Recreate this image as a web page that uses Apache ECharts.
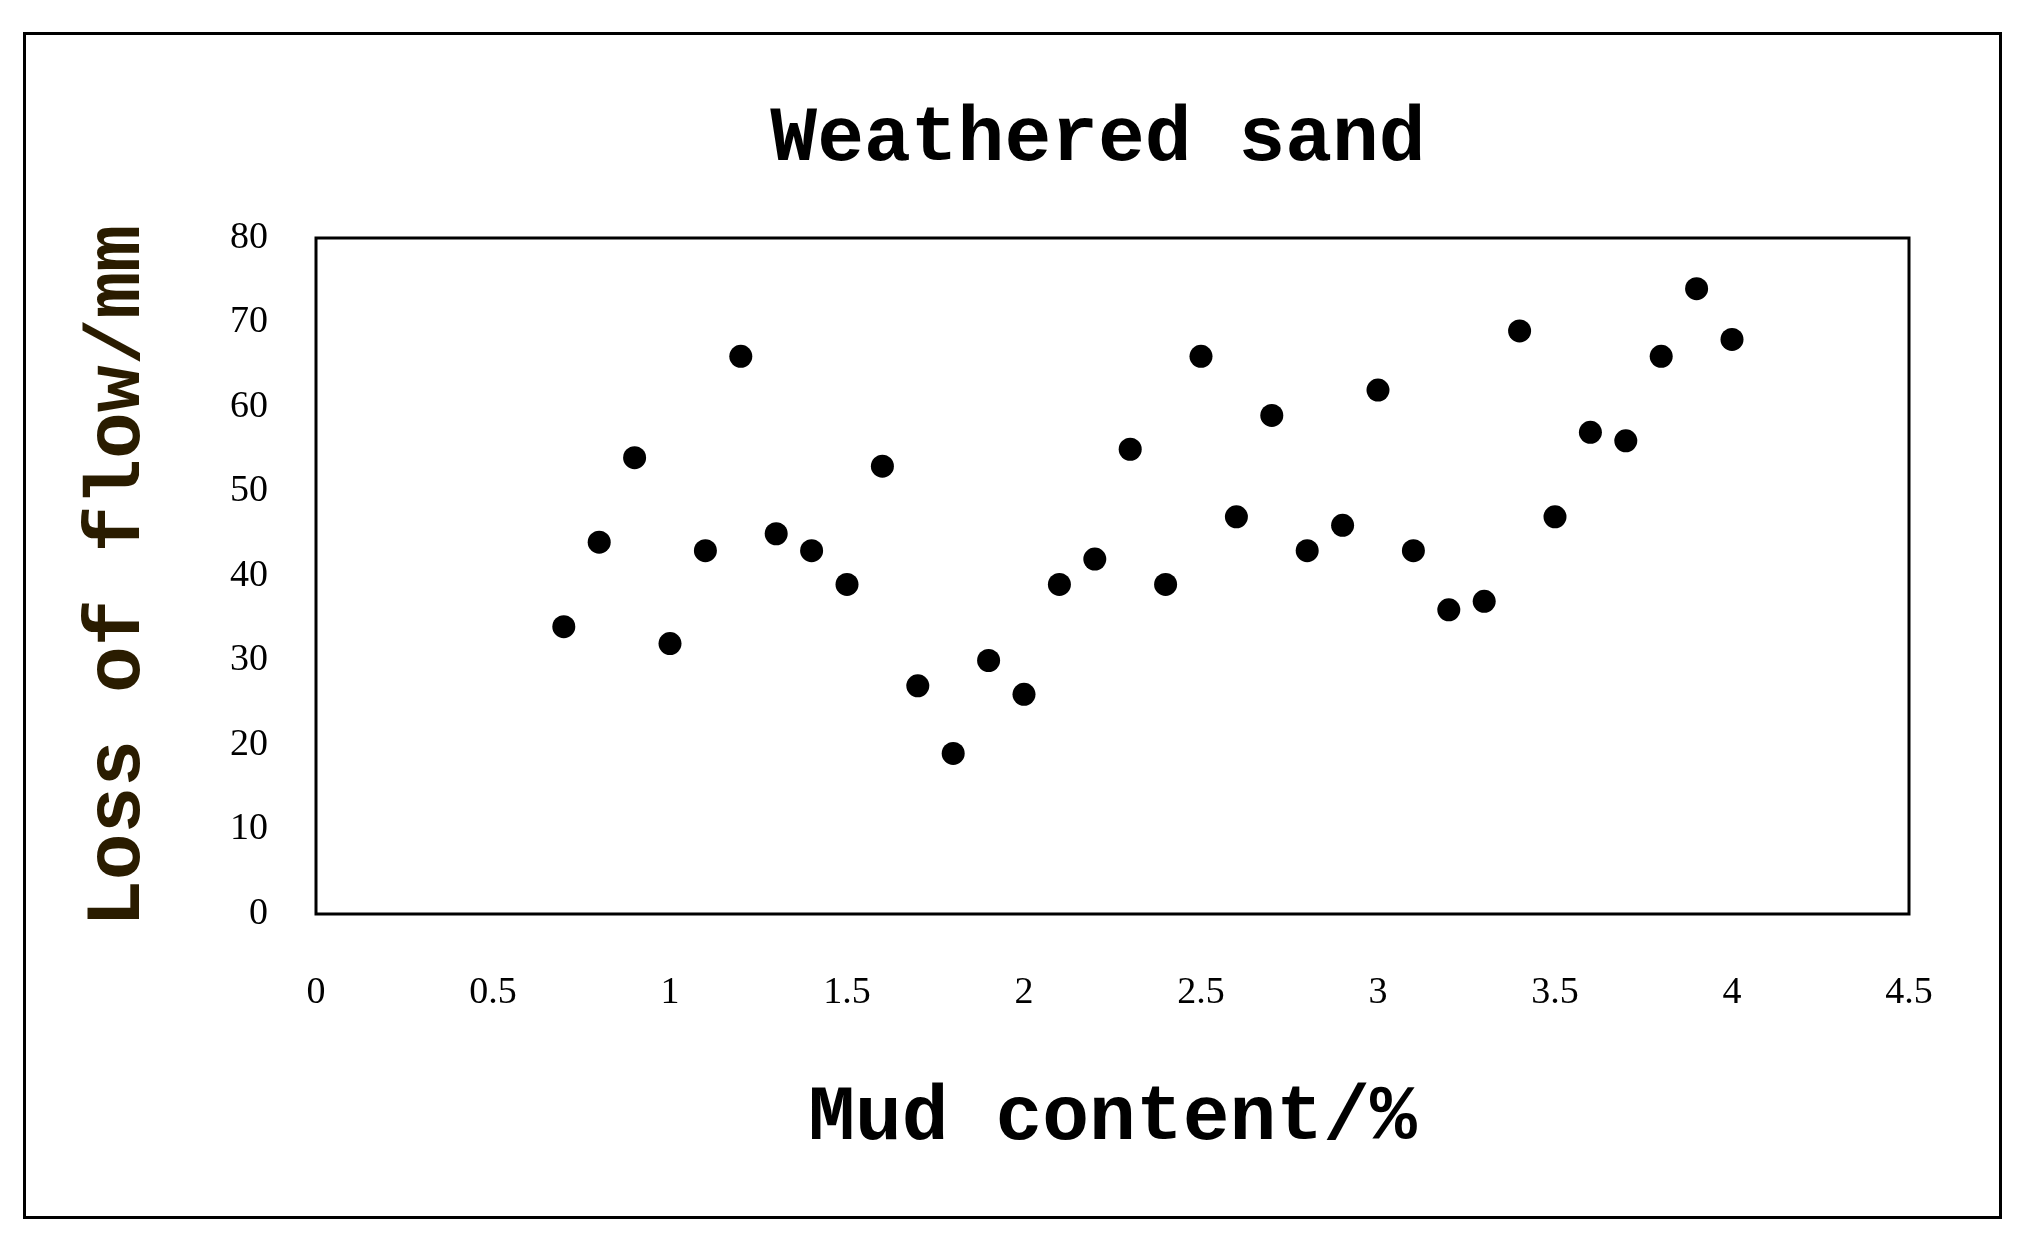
<!DOCTYPE html><html><head><meta charset="utf-8">
<script src="https://cdn.jsdelivr.net/npm/echarts@6/dist/echarts.min.js"></script>
<style>html,body{margin:0;background:#fff}#c{width:2021px;height:1253px}
#b{position:absolute;left:23px;top:32px;width:1973px;height:1181px;border:3px solid #000;pointer-events:none}</style>
</head><body><div id="c"></div><div id="b"></div><script>
const mudContent=[0.7,0.8,0.9,1.0,1.1,1.2,1.3,1.4,1.5,1.6,1.7,1.8,1.9,2.0,2.1,2.2,2.3,2.4,2.5,2.6,2.7,2.8,2.9,3.0,3.1,3.2,3.3,3.4,3.5,3.6,3.7,3.8,3.9,4.0];
const lossOfFlow=[34,44,54,32,43,66,45,43,39,53,27,19,30,26,39,42,55,39,66,47,59,43,46,62,43,36,37,69,47,57,56,66,74,68];
const xTicks={min:0,max:4.5,interval:0.5};
const yTicks={min:0,max:80,interval:10};
const chart=echarts.init(document.getElementById('c'));
const mono='"Liberation Mono","DejaVu Sans Mono",monospace';
const serif='"Liberation Serif",serif';
chart.setOption({
 animation:false,
 title:{text:'Weathered sand',left:1093,top:96,textAlign:'center',textStyle:{fontFamily:mono,fontWeight:'bold',fontSize:78,color:'#000'}},
 grid:{left:316,right:112,top:238,bottom:339,show:true,borderColor:'#000',borderWidth:3},
 xAxis:{type:'value',min:xTicks.min,max:xTicks.max,interval:xTicks.interval,
  name:'Mud content/%',nameLocation:'middle',nameGap:166,
  nameTextStyle:{fontFamily:mono,fontWeight:'bold',fontSize:78,color:'#000'},
  axisLine:{show:false},axisTick:{show:false},splitLine:{show:false},
  axisLabel:{margin:60,fontFamily:serif,fontSize:38,color:'#000'}},
 yAxis:{type:'value',min:yTicks.min,max:yTicks.max,interval:yTicks.interval,
  name:'Loss of flow/mm',nameLocation:'middle',nameGap:158,
  nameTextStyle:{fontFamily:mono,fontWeight:'bold',fontSize:78,color:'#2a1c00'},
  axisLine:{show:false},axisTick:{show:false},splitLine:{show:false},
  axisLabel:{margin:48,fontFamily:serif,fontSize:38,color:'#000'}},
 series:[{type:'scatter',symbolSize:23,itemStyle:{color:'#000',opacity:1},
  data:mudContent.map((x,i)=>[x,lossOfFlow[i]])}]
});
</script></body></html>
